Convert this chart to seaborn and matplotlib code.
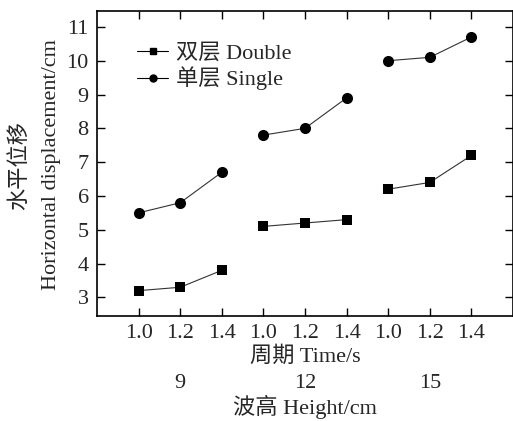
import matplotlib
matplotlib.use("Agg")
import matplotlib.pyplot as plt
import matplotlib.transforms as mtransforms
import seaborn as sns
import pandas as pd
from matplotlib.lines import Line2D

heights = ["9", "12", "15"]
periods = ["1.0", "1.2", "1.4"]
double_vals = [3.2, 3.3, 3.8, 5.1, 5.2, 5.3, 6.2, 6.4, 7.2]
single_vals = [5.5, 5.8, 6.7, 7.8, 8.0, 8.9, 10.0, 10.1, 10.7]
series_names = ["双层 Double", "单层 Single"]

sns.set_theme(style="ticks")
fam = ["Liberation Serif", "Noto Sans CJK SC"]
plt.rcParams["font.family"] = fam
plt.rcParams["font.size"] = 16

rows = []
for name, vals in zip(series_names, [double_vals, single_vals]):
    for i, v in enumerate(vals):
        rows.append({"pos": i + 1, "value": v, "series": name, "group": heights[i // 3]})
df = pd.DataFrame(rows)

fig = plt.figure(figsize=(5.13, 4.21), dpi=100)
ax = fig.add_axes([97 / 513, 1 - 316 / 421, 416 / 513, 305 / 421])

for name, mk, ms in zip(series_names, ["s", "o"], [6.5, 8]):
    sub = df[df["series"] == name]
    sns.lineplot(data=sub, x="pos", y="value", units="group", estimator=None,
                 marker=mk, markersize=ms, markeredgewidth=0, color="#333333",
                 markerfacecolor="black", linewidth=0.8, ax=ax, legend=False)
for l in ax.lines:
    l.set_markerfacecolor("black")
    l.set_markeredgecolor("black")

ax.set_xlim(0, 10)
ax.set_ylim(2.45, 11.47)
ax.set_xticks(range(1, 10))
ax.set_xticklabels(periods * 3)
ax.set_yticks(range(3, 12))
ax.set_xlabel("")
ax.set_ylabel("")
ax.tick_params(direction="in", length=6, width=1, top=True, right=True,
               labelsize=16, color="black", pad=6)
for s in ax.spines.values():
    s.set_linewidth(1.2)
    s.set_color("black")

handles = [Line2D([], [], color="black", lw=0.8, marker="s", markersize=4.5),
           Line2D([], [], color="black", lw=0.8, marker="o", markersize=5)]
ax.legend(handles, series_names, loc="upper left", bbox_to_anchor=(0.075, 0.925),
          frameon=False, fontsize=16, handlelength=1.4, handletextpad=0.35,
          labelspacing=0.15, borderaxespad=0)

# x labels
fig.text(305 / 513, 1 - 357 / 421, "周期 Time/s", ha="center", va="center",
         fontsize=16, family=fam)
blend = mtransforms.blended_transform_factory(ax.transData, fig.transFigure)
for i, h in enumerate(heights):
    ax.text(2 + 3 * i, 1 - 383 / 421, h, transform=blend, ha="center", va="center",
            fontsize=16, family=fam)
fig.text(305 / 513, 1 - 407 / 421, "波高 Height/cm", ha="center", va="center",
         fontsize=16, family=fam)

# y labels
fig.text(20 / 513, 1 - 165 / 421, "水平位移", rotation=90, ha="center", va="center",
         fontsize=16, family=fam)
fig.text(52 / 513, 1 - 165 / 421, "Horizontal displacement/cm", rotation=90,
         ha="center", va="center", fontsize=16, family=fam)

fig.savefig("out.png", dpi=100)
